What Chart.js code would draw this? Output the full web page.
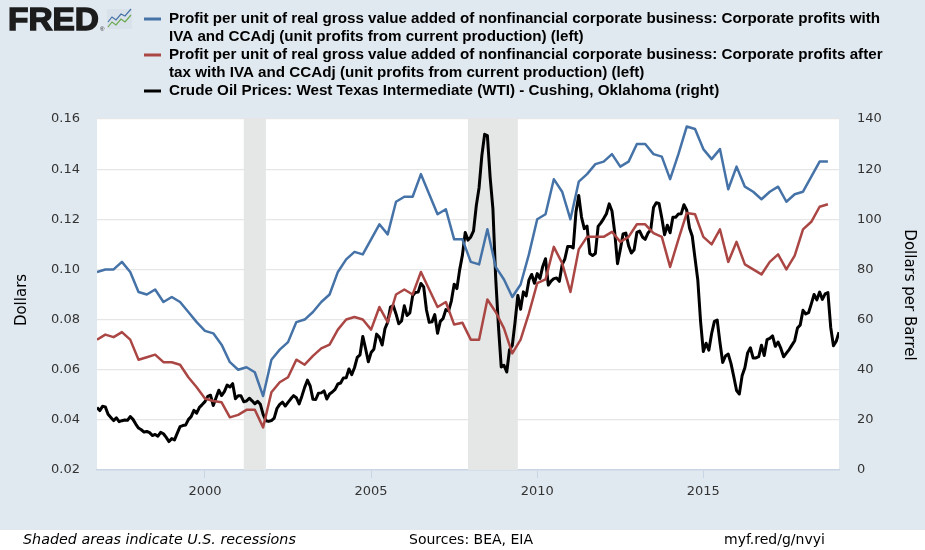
<!DOCTYPE html>
<html>
<head>
<meta charset="utf-8">
<script src="https://cdn.jsdelivr.net/npm/chart.js"></script>
<style>
  body { margin: 0; background: #ffffff; }
  #wrap { width: 925px; height: 550px; }
</style>
</head>
<body>
<div id="wrap"><canvas id="myChart" width="925" height="550"></canvas></div>
<script>
// quarterly series start 1996 Q4, monthly oil starts 1996-10
const quarterStart = 1996.75;
const monthStart = 1996.75;

const profitsWithIva = [
  0.099, 0.100, 0.100, 0.103, 0.099, 0.091, 0.090, 0.092, 0.087, 0.089,
  0.087, 0.083, 0.079, 0.0755, 0.0745, 0.070, 0.063, 0.060, 0.061, 0.059,
  0.0495, 0.064, 0.068, 0.071, 0.079, 0.080, 0.083, 0.087, 0.090, 0.099,
  0.104, 0.107, 0.106, 0.112, 0.118, 0.114, 0.127, 0.129, 0.129, 0.138,
  0.130, 0.122, 0.124, 0.112, 0.112, 0.103, 0.102, 0.116, 0.101, 0.096,
  0.089, 0.094, 0.106, 0.120, 0.122, 0.136, 0.131, 0.120, 0.135, 0.138,
  0.142, 0.143, 0.146, 0.141, 0.143, 0.150, 0.150, 0.146, 0.145, 0.136,
  0.146, 0.157, 0.156, 0.148, 0.144, 0.148, 0.132, 0.141, 0.133, 0.131,
  0.128, 0.131, 0.133, 0.127, 0.130, 0.131, 0.137, 0.143, 0.143
];

const profitsAfterTax = [
  0.072, 0.074, 0.073, 0.075, 0.072, 0.064, 0.065, 0.066, 0.063, 0.063,
  0.062, 0.057, 0.053, 0.0485, 0.0475, 0.047, 0.041, 0.042, 0.044, 0.044,
  0.037, 0.051, 0.055, 0.057, 0.064, 0.062, 0.0655, 0.0685, 0.070, 0.076,
  0.080, 0.081, 0.080, 0.076, 0.085, 0.079, 0.090, 0.092, 0.090, 0.099,
  0.092, 0.085, 0.087, 0.078, 0.0787, 0.072, 0.072, 0.088, 0.083, 0.0765,
  0.0665, 0.072, 0.0825, 0.0945, 0.096, 0.109, 0.1025, 0.091, 0.108, 0.113,
  0.113, 0.113, 0.115, 0.111, 0.113, 0.118, 0.118, 0.1145, 0.113, 0.101,
  0.112, 0.1225, 0.122, 0.113, 0.110, 0.116, 0.103, 0.111, 0.102, 0.100,
  0.098, 0.103, 0.106, 0.100, 0.1055, 0.116, 0.119, 0.125, 0.126
];

const oilWti = [
  24.90, 23.71, 25.39,
  25.17, 22.21, 20.97, 19.70, 20.82, 19.26, 19.66, 19.95, 19.80, 21.33, 20.19, 18.33,
  16.72, 16.06, 15.12, 15.35, 14.91, 13.72, 14.17, 13.47, 15.03, 14.46, 13.00, 11.35,
  12.52, 12.01, 14.68, 17.31, 17.72, 17.92, 20.10, 21.28, 23.80, 22.69, 25.00, 26.10,
  27.26, 29.37, 29.84, 25.72, 28.79, 31.82, 29.70, 31.26, 33.88, 33.11, 34.42, 28.44,
  29.59, 29.61, 27.25, 27.49, 28.63, 27.60, 26.43, 27.37, 26.20, 22.17, 19.64, 19.39,
  19.72, 20.72, 24.53, 26.18, 27.04, 25.52, 26.97, 28.39, 29.66, 28.84, 26.35, 29.46,
  32.95, 35.83, 33.51, 28.17, 28.11, 30.66, 30.76, 31.57, 28.31, 30.34, 31.11, 32.13,
  34.31, 34.69, 36.74, 36.75, 40.28, 38.03, 40.78, 44.90, 45.94, 53.28, 48.47, 43.15,
  46.84, 48.15, 54.19, 52.98, 49.83, 56.35, 58.99, 64.98, 65.59, 62.26, 58.32, 59.41,
  65.49, 61.63, 62.69, 69.44, 70.84, 70.95, 74.41, 73.04, 63.80, 58.89, 59.08, 61.96,
  54.51, 59.28, 60.44, 63.98, 63.46, 67.49, 74.12, 72.36, 79.92, 85.80, 94.77, 91.69,
  92.97, 95.39, 105.45, 112.58, 125.40, 133.88, 133.37, 116.67, 104.11, 76.61, 57.31, 41.12,
  41.71, 39.09, 47.94, 49.65, 59.03, 69.64, 64.15, 71.05, 69.41, 75.72, 77.99, 74.47,
  78.33, 76.39, 81.20, 84.29, 73.74, 75.34, 76.32, 76.60, 75.24, 81.89, 84.25, 89.15,
  89.17, 88.58, 102.86, 109.53, 100.90, 96.26, 97.30, 86.33, 85.52, 86.32, 97.16, 98.56,
  100.27, 102.20, 106.16, 103.32, 94.66, 82.30, 87.90, 94.13, 94.51, 89.49, 86.53, 87.86,
  94.76, 95.31, 92.94, 92.02, 94.51, 95.77, 104.67, 106.57, 106.29, 100.54, 93.86, 97.63,
  94.62, 100.82, 100.80, 102.07, 102.18, 105.79, 103.59, 96.54, 93.21, 84.40, 75.79, 59.29,
  47.22, 50.58, 47.82, 54.45, 59.27, 59.82, 50.90, 42.87, 45.48, 46.22, 42.44, 37.19,
  31.68, 30.32, 37.55, 40.75, 46.71, 48.76, 44.65, 44.72, 45.18, 49.78, 45.66, 51.97,
  52.50, 53.47, 49.33, 51.06, 48.48, 45.18, 46.63, 48.04, 49.82, 51.58, 56.64, 57.88,
  63.70, 62.23, 62.73, 66.25, 69.98, 67.87, 70.98, 68.06, 70.23, 70.75, 56.96, 49.52,
  51.38, 54.95
];

// recessions as [start, end] in decimal years (2001-03..2001-11, 2007-12..2009-06)
const recessions = [[2001 + 2/12, 2001 + 10/12], [2007 + 11/12, 2009 + 5/12]];
const yearTicks = [2000, 2005, 2010, 2015];
const xMin = 1996.75, xMax = 2019 + 1/12;

const legendRows = [
  "Profit per unit of real gross value added of nonfinancial corporate business: Corporate profits with",
  "IVA and CCAdj (unit profits from current production) (left)",
  "Profit per unit of real gross value added of nonfinancial corporate business: Corporate profits after",
  "tax with IVA and CCAdj (unit profits from current production) (left)",
  "Crude Oil Prices: West Texas Intermediate (WTI) - Cushing, Oklahoma (right)"
];

const quarterly = arr => arr.map((v, i) => ({ x: quarterStart + i * 0.25, y: v }));
const monthly = arr => arr.map((v, i) => ({ x: monthStart + i / 12, y: v }));

Chart.defaults.font.family = '"DejaVu Sans", sans-serif';
Chart.defaults.font.size = 13;
Chart.defaults.color = '#333333';

// background, white plot area and recession bars
const fredBack = {
  id: 'fredBack',
  beforeDraw(chart) {
    const ctx = chart.ctx, a = chart.chartArea;
    ctx.save();
    ctx.fillStyle = '#e1e9f0';
    ctx.fillRect(0, 0, chart.width, 530);
    ctx.fillStyle = '#ffffff';
    ctx.fillRect(0, 530, chart.width, chart.height - 530);
    ctx.fillRect(a.left, a.top, a.right - a.left, a.bottom - a.top);
    ctx.restore();
  },
  beforeDatasetsDraw(chart) {
    const ctx = chart.ctx, a = chart.chartArea, xs = chart.scales.x;
    ctx.save();
    ctx.fillStyle = '#e5e7e6';
    recessions.forEach(r => {
      const x1 = xs.getPixelForValue(r[0]);
      const x2 = xs.getPixelForValue(r[1]);
      ctx.fillRect(x1, a.top, x2 - x1, a.bottom - a.top);
    });
    ctx.restore();
  }
};

// header legend, logo, axis titles, footer
const fredText = {
  id: 'fredText',
  afterDraw(chart) {
    const ctx = chart.ctx;
    ctx.save();

    // logo
    ctx.font = 'bold 31px "Liberation Sans", sans-serif';
    ctx.textBaseline = 'alphabetic';
    ctx.fillStyle = '#1c1c1c';
    ctx.strokeStyle = '#1c1c1c';
    ctx.lineWidth = 1.4;
    const fw = ctx.measureText('FRED').width;
    ctx.save();
    ctx.translate(8, 30);
    ctx.scale(91 / fw, 1);
    ctx.fillText('FRED', 0, 0);
    ctx.strokeText('FRED', 0, 0);
    ctx.restore();
    ctx.font = '6px sans-serif';
    ctx.fillText('®', 100, 31);
    ctx.fillStyle = '#d9e2ea';
    ctx.fillRect(107, 9, 25, 20);
    ctx.lineWidth = 1.2;
    ctx.strokeStyle = '#4572a7';
    ctx.beginPath();
    ctx.moveTo(108, 22); ctx.lineTo(112, 17); ctx.lineTo(116, 20); ctx.lineTo(121, 14); ctx.lineTo(125, 16); ctx.lineTo(131, 9);
    ctx.stroke();
    ctx.strokeStyle = '#6aa84f';
    ctx.beginPath();
    ctx.moveTo(108, 27); ctx.lineTo(112, 22); ctx.lineTo(116, 25); ctx.lineTo(121, 19); ctx.lineTo(125, 22); ctx.lineTo(131, 15);
    ctx.stroke();

    // legend
    const rowY = [19, 37, 55, 73, 91];
    const markColors = ['#4572a7', null, '#aa4643', null, '#000000'];
    ctx.font = 'bold 14px "Liberation Sans", sans-serif';
    ctx.textBaseline = 'middle';
    ctx.fillStyle = '#000000';
    const sx = 711 / ctx.measureText(legendRows[0]).width;
    legendRows.forEach((t, i) => {
      if (markColors[i]) {
        ctx.strokeStyle = markColors[i];
        ctx.lineWidth = 3;
        ctx.beginPath();
        ctx.moveTo(144, rowY[i]);
        ctx.lineTo(161, rowY[i]);
        ctx.stroke();
      }
      ctx.save();
      ctx.translate(169, rowY[i]);
      ctx.scale(sx, 1);
      ctx.fillText(t, 0, 0);
      ctx.restore();
    });

    // axis titles
    ctx.font = '15px "DejaVu Sans", sans-serif';
    ctx.textAlign = 'center';
    ctx.save();
    ctx.translate(22, 300);
    ctx.rotate(-Math.PI / 2);
    ctx.fillText('Dollars', 0, 0);
    ctx.restore();
    ctx.save();
    ctx.translate(909, 295);
    ctx.rotate(Math.PI / 2);
    ctx.fillText('Dollars per Barrel', 0, 0);
    ctx.restore();

    // footer
    ctx.textAlign = 'left';
    ctx.font = 'italic 14.3px "DejaVu Sans", sans-serif';
    ctx.fillText('Shaded areas indicate U.S. recessions', 23, 540);
    ctx.font = '14px "DejaVu Sans", sans-serif';
    ctx.fillText('Sources: BEA, EIA', 409, 540);
    ctx.fillText('myf.red/g/nvyi', 724, 540);
    ctx.restore();
  }
};

const data = {
  datasets: [
    {
      label: 'Corporate profits with IVA and CCAdj',
      data: quarterly(profitsWithIva),
      borderColor: '#4572a7',
      borderWidth: 2.5,
      yAxisID: 'y'
    },
    {
      label: 'Corporate profits after tax with IVA and CCAdj',
      data: quarterly(profitsAfterTax),
      borderColor: '#aa4643',
      borderWidth: 2.5,
      yAxisID: 'y'
    },
    {
      label: 'Crude Oil Prices: WTI',
      data: monthly(oilWti),
      borderColor: '#000000',
      borderWidth: 3,
      yAxisID: 'y1'
    }
  ]
};

const config = {
  type: 'line',
  data,
  options: {
    responsive: false,
    animation: false,
    events: [],
    layout: { padding: { top: 119, left: 0, right: 0, bottom: 0 } },
    elements: { point: { radius: 0 }, line: { tension: 0, borderJoinStyle: 'round' } },
    plugins: { legend: { display: false }, tooltip: { enabled: false } },
    scales: {
      x: {
        type: 'linear',
        min: xMin,
        max: xMax,
        afterBuildTicks: s => { s.ticks = yearTicks.map(v => ({ value: v })); },
        afterFit: s => { s.height = 80; },
        ticks: { padding: 6, callback: v => String(v), color: '#333333' },
        grid: { drawOnChartArea: false, drawTicks: true, tickLength: 8, color: '#c8d5e5' },
        border: { display: true, color: '#c8d5e5', width: 1.5 }
      },
      y: {
        position: 'left',
        min: 0.02,
        max: 0.16,
        afterFit: s => { s.width = 97; },
        ticks: { stepSize: 0.02, padding: 17, callback: v => v.toFixed(2) },
        grid: { color: '#e6e6e6', drawTicks: false, lineWidth: 1.2 },
        border: { display: false }
      },
      y1: {
        position: 'right',
        min: 0,
        max: 140,
        afterFit: s => { s.width = 86; },
        ticks: { stepSize: 20, padding: 18 },
        grid: { drawOnChartArea: false, drawTicks: false },
        border: { display: false }
      }
    }
  },
  plugins: [fredBack, fredText]
};

var myChart = new Chart(document.getElementById('myChart'), config);
</script>
</body>
</html>
